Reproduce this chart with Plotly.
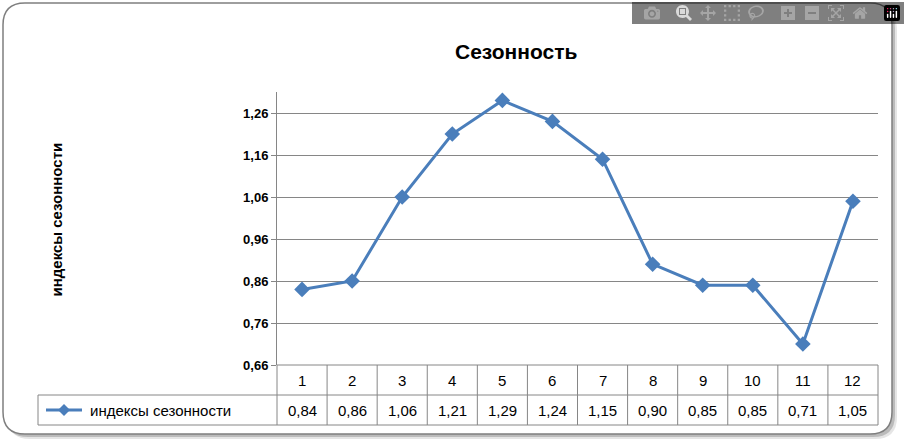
import plotly.graph_objects as go

months = [1,2,3,4,5,6,7,8,9,10,11,12]
values = [0.84,0.86,1.06,1.21,1.29,1.24,1.15,0.90,0.85,0.85,0.71,1.05]
value_labels = ["0,84","0,86","1,06","1,21","1,29","1,24","1,15","0,90","0,85","0,85","0,71","1,05"]
yticks = [0.66,0.76,0.86,0.96,1.06,1.16,1.26]
ytick_labels = ["0,66","0,76","0,86","0,96","1,06","1,16","1,26"]
series_name = "индексы сезонности"

W,H = 906,446
L,R,T,B = 277,878,92,365
def px(x): return (x-L)/(R-L)
def py(y): return (B-y)/(B-T)
COL = "#4a7ebb"
GR = "#868686"

fig = go.Figure(go.Scatter(x=months, y=values, mode="lines+markers",
    line=dict(color=COL, width=3), marker=dict(symbol="diamond", size=12, color=COL),
    showlegend=False, hoverinfo="skip"))

shapes = []
def rrect(x0,y0,x1,y1,r):
    return (f"M {px(x0+r)} {py(y0)} L {px(x1-r)} {py(y0)} Q {px(x1)} {py(y0)} {px(x1)} {py(y0+r)} "
            f"L {px(x1)} {py(y1-r)} Q {px(x1)} {py(y1)} {px(x1-r)} {py(y1)} "
            f"L {px(x0+r)} {py(y1)} Q {px(x0)} {py(y1)} {px(x0)} {py(y1-r)} "
            f"L {px(x0)} {py(y0+r)} Q {px(x0)} {py(y0)} {px(x0+r)} {py(y0)} Z")
for d,c in [(5,"rgba(0,0,0,0.10)"),(3,"rgba(0,0,0,0.18)")]:
    shapes.append(dict(type="path", xref="paper", yref="paper", path=rrect(3+d,3+d,892+d,434+d,22),
                       line=dict(width=0), fillcolor=c, layer="below"))
shapes.append(dict(type="path", xref="paper", yref="paper", path=rrect(3,3,892,434,22),
                   line=dict(color="#7f7f7f", width=1.5), fillcolor="white", layer="below"))
def seg(x0,y0,x1,y1,color=GR,width=1):
    shapes.append(dict(type="line", xref="paper", yref="paper", x0=px(x0), y0=py(y0), x1=px(x1), y1=py(y1),
                       line=dict(color=color, width=width)))
seg(L,365,R,365); seg(38,395,R,395); seg(38,425,R,425)
seg(38,395,38,425)
for i in range(13):
    x = L + i*(R-L)/12
    seg(x,365,x,425)
seg(46,410,82,410,COL,3)
cx,cy,s = 64,410,6
shapes.append(dict(type="path", xref="paper", yref="paper",
    path=f"M {px(cx)} {py(cy-s)} L {px(cx+s)} {py(cy)} L {px(cx)} {py(cy+s)} L {px(cx-s)} {py(cy)} Z",
    fillcolor=COL, line=dict(width=0)))

ann = []
for i,(m,v) in enumerate(zip(months,value_labels)):
    xc = px(L + (i+0.5)*(R-L)/12)
    ann.append(dict(x=xc, y=py(380), xref="paper", yref="paper", text=str(m), showarrow=False,
                    xanchor="center", yanchor="middle", font=dict(size=15, color="black")))
    ann.append(dict(x=xc, y=py(410), xref="paper", yref="paper", text=v, showarrow=False,
                    xanchor="center", yanchor="middle", font=dict(size=15, color="black")))
ann.append(dict(x=px(88), y=py(410), xref="paper", yref="paper", text=series_name, showarrow=False,
                xanchor="left", yanchor="middle", font=dict(size=15, color="black")))
ann.append(dict(x=px(453), y=py(38), xref="paper", yref="paper", text="<b>Сезонность</b>", showarrow=False,
                font=dict(size=21, color="black")))
ann.append(dict(x=px(45), y=py(220), xref="paper", yref="paper", text="<b>индексы сезонности</b>", showarrow=False,
                textangle=-90, font=dict(size=15, color="black")))

fig.update_layout(width=W, height=H, margin=dict(l=L, r=W-R, t=T, b=H-B),
    paper_bgcolor="rgba(0,0,0,0)", plot_bgcolor="rgba(0,0,0,0)",
    font=dict(family="Liberation Sans, Arial", color="black"),
    shapes=shapes, annotations=ann,
    xaxis=dict(range=[0.5,12.5], showticklabels=False, showgrid=False, zeroline=False, ticks=""),
    yaxis=dict(range=[0.66,1.31], tickvals=yticks, ticktext=[f"<b>{t}</b>" for t in ytick_labels],
               tickfont=dict(size=13), showgrid=True, gridcolor=GR, gridwidth=1, zeroline=False,
               showline=True, linecolor=GR, ticks="outside", ticklen=5, tickcolor=GR))
fig.write_html("out.html", post_script="document.body.style.margin='0';document.body.style.padding='0';")
